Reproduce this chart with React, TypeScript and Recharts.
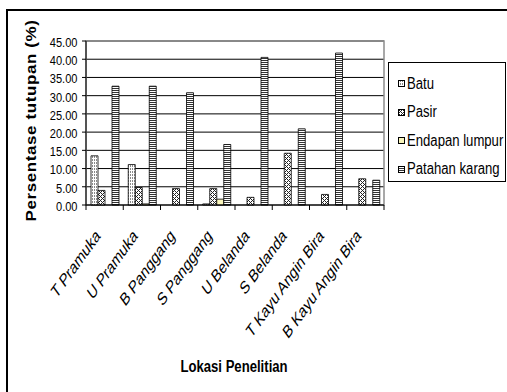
import React from 'react';
import { BarChart, Bar, XAxis, YAxis, CartesianGrid, ReferenceArea } from 'recharts';

// Survey sites (categories)
const locations = [
  'T Pramuka',
  'U Pramuka',
  'B Panggang',
  'S Panggang',
  'U Belanda',
  'S Belanda',
  'T Kayu Angin Bira',
  'B Kayu Angin Bira',
];

// Cover percentage per substrate type
const batu = [13.5, 11.1, 0, 0.3, 0, 0, 0, 0];
const pasir = [4.0, 4.8, 4.5, 4.5, 2.1, 14.2, 2.9, 7.2];
const endapanLumpur = [0, 0.3, 0, 1.6, 0, 0, 0, 0];
const patahanKarang = [32.6, 32.6, 30.8, 16.6, 40.5, 20.9, 41.7, 6.8];

const yTicks = [0, 5, 10, 15, 20, 25, 30, 35, 40, 45];

const seriesNames = ['Batu', 'Pasir', 'Endapan lumpur', 'Patahan karang'];
const seriesKeys = ['batu', 'pasir', 'endapan', 'patahan'];

const data = locations.map((lokasi, i) => ({
  lokasi,
  batu: batu[i],
  pasir: pasir[i],
  endapan: endapanLumpur[i],
  patahan: patahanKarang[i],
}));

const W = 507;
const H = 392;
const PLOT_LEFT = 86;
const PLOT_TOP = 41;
const PLOT_RIGHT = 384;
const PLOT_BOTTOM = 205;
const X_AXIS_H = 40;
const BAND = (PLOT_RIGHT - PLOT_LEFT) / locations.length;

const FONT = '"Liberation Sans", Arial, Helvetica, sans-serif';
const SQUEEZE = 0.82;
const LABEL_SQUEEZE = 0.72;

const fills: Record<string, string> = {
  batu: 'url(#pat-batu)',
  pasir: 'url(#pat-pasir)',
  endapan: '#FAF6BC',
  patahan: 'url(#pat-patahan)',
};

const YTick = (props: any) => {
  const { x, y, payload } = props;
  return (
    <g transform={`translate(${x - 2.5},${y + 1.5}) scale(${SQUEEZE},1)`}>
      <text
        x={0}
        y={0}
        textAnchor="end"
        dominantBaseline="central"
        fontFamily={FONT}
        fontSize={13.5}
        fill="#000"
      >
        {Number(payload.value).toFixed(2)}
      </text>
    </g>
  );
};

const XTick = (props: any) => {
  const { x, y, payload, index } = props;
  const left = x - BAND / 2;
  const right = x + BAND / 2;
  return (
    <g>
      <line x1={left} y1={y} x2={left} y2={y + 5} stroke="#000" strokeWidth={1} />
      {index === locations.length - 1 && (
        <line x1={right} y1={y} x2={right} y2={y + 5} stroke="#000" strokeWidth={1} />
      )}
      <g transform={`translate(${x - 3.5},${y + 32}) scale(${LABEL_SQUEEZE},1) rotate(-45)`}>
        <text x={0} y={0} textAnchor="end" fontFamily={FONT} fontSize={18} fill="#000">
          {payload.value}
        </text>
      </g>
    </g>
  );
};

const Swatch = ({ k }: { k: string }) => (
  <svg width={7} height={7} style={{ display: 'block' }}>
    <rect x={0.5} y={0.5} width={6} height={6} fill={fills[k]} stroke="#000" strokeWidth={1} />
  </svg>
);

const legendRows = [83.5, 112, 140.5, 169];

export default function App() {
  return (
    <div
      style={{
        position: 'fixed',
        left: 0,
        top: 0,
        width: W,
        height: H,
        overflow: 'hidden',
        background: '#fff',
      }}
    >
      {/* fill patterns shared by bars and legend swatches */}
      <svg width={0} height={0} style={{ position: 'absolute' }}>
        <defs>
          <pattern id="pat-batu" patternUnits="userSpaceOnUse" width={2} height={3}>
            <rect width={2} height={3} fill="#fff" />
            <rect x={0} y={0} width={1} height={2} fill="#8a8a8a" />
          </pattern>
          <pattern id="pat-pasir" patternUnits="userSpaceOnUse" width={4} height={4}>
            <rect width={4} height={4} fill="#fff" />
            <rect x={0} y={0} width={1} height={1} fill="#222" />
            <rect x={1} y={1} width={1} height={1} fill="#222" />
            <rect x={2} y={2} width={1} height={1} fill="#222" />
            <rect x={3} y={3} width={1} height={1} fill="#222" />
            <rect x={3} y={1} width={1} height={1} fill="#222" />
            <rect x={1} y={3} width={1} height={1} fill="#222" />
          </pattern>
          <pattern id="pat-patahan" patternUnits="userSpaceOnUse" width={4} height={2}>
            <rect width={4} height={2} fill="#fff" />
            <rect x={0} y={0} width={4} height={1} fill="#333" />
          </pattern>
        </defs>
      </svg>

      {/* outer chart frame */}
      <div
        style={{
          position: 'absolute',
          left: 6,
          top: 9,
          width: 520,
          height: 420,
          border: '2px solid #000',
          boxSizing: 'border-box',
        }}
      />

      <div style={{ position: 'absolute', left: 0, top: 0 }}>
        <BarChart
          width={W}
          height={H}
          data={data}
          margin={{
            top: PLOT_TOP,
            right: W - PLOT_RIGHT,
            bottom: H - PLOT_BOTTOM - X_AXIS_H,
            left: 0,
          }}
          barCategoryGap={5}
          barGap={0}
        >
          <CartesianGrid horizontal vertical={false} stroke="#000" strokeWidth={1} />
          <XAxis
            dataKey="lokasi"
            interval={0}
            height={X_AXIS_H}
            tickLine={false}
            tickSize={0}
            tickMargin={0}
            axisLine={{ stroke: '#000', strokeWidth: 1 }}
            tick={<XTick />}
          />
          <YAxis
            width={PLOT_LEFT}
            domain={[0, 45]}
            ticks={yTicks}
            interval={0}
            tickSize={4}
            tickLine={{ stroke: '#000', strokeWidth: 1 }}
            axisLine={{ stroke: '#000', strokeWidth: 1 }}
            tick={<YTick />}
          />
          <ReferenceArea y1={0} y2={45} fill="none" stroke="#8c8c8c" strokeWidth={1.5} ifOverflow="visible" />
          {seriesKeys.map((k, i) => (
            <Bar
              key={k}
              dataKey={k}
              name={seriesNames[i]}
              fill={fills[k]}
              stroke="#000"
              strokeWidth={0.8}
              isAnimationActive={false}
            />
          ))}
        </BarChart>
      </div>

      {/* axis titles */}
      <svg
        width={W}
        height={H}
        style={{ position: 'absolute', left: 0, top: 0, pointerEvents: 'none' }}
      >
        <g transform={`translate(31,120.5) scale(${SQUEEZE},1) rotate(-90)`}>
          <text
            x={0}
            y={0}
            textAnchor="middle"
            dominantBaseline="central"
            fontFamily={FONT}
            fontWeight="bold"
            fontSize={17}
            letterSpacing={0.6}
            fill="#000"
          >
            Persentase tutupan (%)
          </text>
        </g>
        <g transform={`translate(234,367) scale(${SQUEEZE},1)`}>
          <text
            x={0}
            y={0}
            textAnchor="middle"
            dominantBaseline="central"
            fontFamily={FONT}
            fontWeight="bold"
            fontSize={16}
            fill="#000"
          >
            Lokasi Penelitian
          </text>
        </g>
      </svg>

      {/* legend */}
      <div
        style={{
          position: 'absolute',
          left: 388,
          top: 62,
          width: 118,
          height: 120,
          border: '1px solid #000',
          boxSizing: 'border-box',
          background: '#fff',
        }}
      >
        {seriesKeys.map((k, i) => (
          <div
            key={k}
            style={{
              position: 'absolute',
              left: 9,
              top: legendRows[i] - 63,
              height: 0,
              display: 'flex',
              alignItems: 'center',
            }}
          >
            <Swatch k={k} />
            <span
              style={{
                marginLeft: 2,
                fontFamily: FONT,
                fontSize: 16,
                lineHeight: 1,
                whiteSpace: 'nowrap',
                display: 'inline-block',
                transform: `scaleX(${SQUEEZE})`,
                transformOrigin: 'left center',
                color: '#000',
              }}
            >
              {seriesNames[i]}
            </span>
          </div>
        ))}
      </div>
    </div>
  );
}
